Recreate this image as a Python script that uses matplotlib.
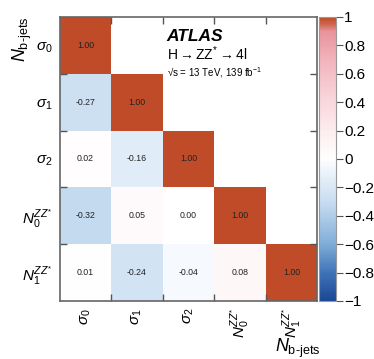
import numpy as np
import matplotlib
matplotlib.use("Agg")
import matplotlib.pyplot as plt
from matplotlib.colors import LinearSegmentedColormap
from matplotlib.ticker import FuncFormatter

plt.rcParams['font.family'] = ['Liberation Sans', 'DejaVu Sans']
plt.rcParams['mathtext.fontset'] = 'custom'
plt.rcParams['mathtext.rm'] = 'Liberation Sans'
plt.rcParams['mathtext.it'] = 'Liberation Sans:italic'
plt.rcParams['mathtext.bf'] = 'Liberation Sans:bold'

# parameter labels (rows top->bottom, columns left->right)
labels = [r'$\sigma_0$', r'$\sigma_1$', r'$\sigma_2$',
          r'$N_0^{ZZ^{*}}$', r'$N_1^{ZZ^{*}}$']

# lower triangle of the correlation matrix, row by row
row0 = [1.00]
row1 = [-0.27, 1.00]
row2 = [0.02, -0.16, 1.00]
row3 = [-0.32, 0.05, 0.00, 1.00]
row4 = [0.01, -0.24, -0.04, 0.08, 1.00]
rows = [row0, row1, row2, row3, row4]

n = len(labels)
corr = np.full((n, n), np.nan)
for i, r in enumerate(rows):
    corr[i, :len(r)] = r
masked = np.ma.masked_invalid(corr)

cmap = LinearSegmentedColormap.from_list("atlas_rb", [
    (0.00, "#1b4795"),
    (0.10, "#3f74b8"),
    (0.20, "#80aed8"),
    (0.35, "#c8ddf0"),
    (0.45, "#eaf2fa"),
    (0.50, "#ffffff"),
    (0.58, "#fdf0f2"),
    (0.70, "#f9d8dd"),
    (0.85, "#f2b3bc"),
    (0.95, "#e8939b"),
    (0.985, "#c9583a"),
    (1.00, "#bf4b28"),
])

fig = plt.figure(figsize=(3.74, 3.59), dpi=100)
ax = fig.add_axes([0.160, 0.1616, 0.688, 0.7914])
cax = fig.add_axes([0.853, 0.1616, 0.045, 0.7914])

x = np.arange(n + 1)
mesh = ax.pcolormesh(x, x, masked, cmap=cmap, vmin=-1, vmax=1)
ax.set_xlim(0, n)
ax.set_ylim(n, 0)

for i in range(n):
    for j in range(n):
        if not np.isnan(corr[i, j]):
            ax.text(j + 0.5, i + 0.5, f"{corr[i, j]:.2f}", ha='center',
                    va='center', fontsize=6.3, color='#222222')

ax.set_xticks(np.arange(n) + 0.5)
ax.set_yticks(np.arange(n) + 0.5)
ax.set_xticklabels(labels, rotation=90, fontsize=11)
ax.set_yticklabels(labels, fontsize=11)
ax.tick_params(which='major', length=0, pad=5)
ax.set_xticks(np.arange(1, n), minor=True)
ax.set_yticks(np.arange(1, n), minor=True)
ax.tick_params(which='minor', direction='in', length=5, width=1,
               color='#555555', top=True, right=True)
for s in ax.spines.values():
    s.set_color('#666666')
    s.set_linewidth(1.2)

fig.text(0.06, 0.89, r'$N_{\mathrm{b\text{-}jets}}$', rotation=90,
         fontsize=13, ha='center', va='center')
fig.text(0.795, 0.03, r'$N_{\mathrm{b\text{-}jets}}$', fontsize=13,
         ha='center', va='center')

ax.text(0.415, 0.915, 'ATLAS', transform=ax.transAxes, fontsize=12.5,
        fontweight='bold', fontstyle='italic')
ax.text(0.415, 0.847, r'H$\rightarrow$ZZ$^{*}$$\rightarrow$4l',
        transform=ax.transAxes, fontsize=10)
ax.text(0.415, 0.79, '\u221As = 13 TeV, 139 fb$^{-1}$',
        transform=ax.transAxes, fontsize=7)

cb = fig.colorbar(mesh, cax=cax)
cb.set_ticks(np.linspace(-1, 1, 11))
cb.ax.yaxis.set_major_formatter(FuncFormatter(
    lambda v, p: ("%g" % round(v, 1)).replace('-', '\u2212')))
cb.ax.tick_params(labelsize=11, length=5, color='#555555', pad=1)
cb.outline.set_edgecolor('#999999')

fig.savefig("out.png", dpi=100)
